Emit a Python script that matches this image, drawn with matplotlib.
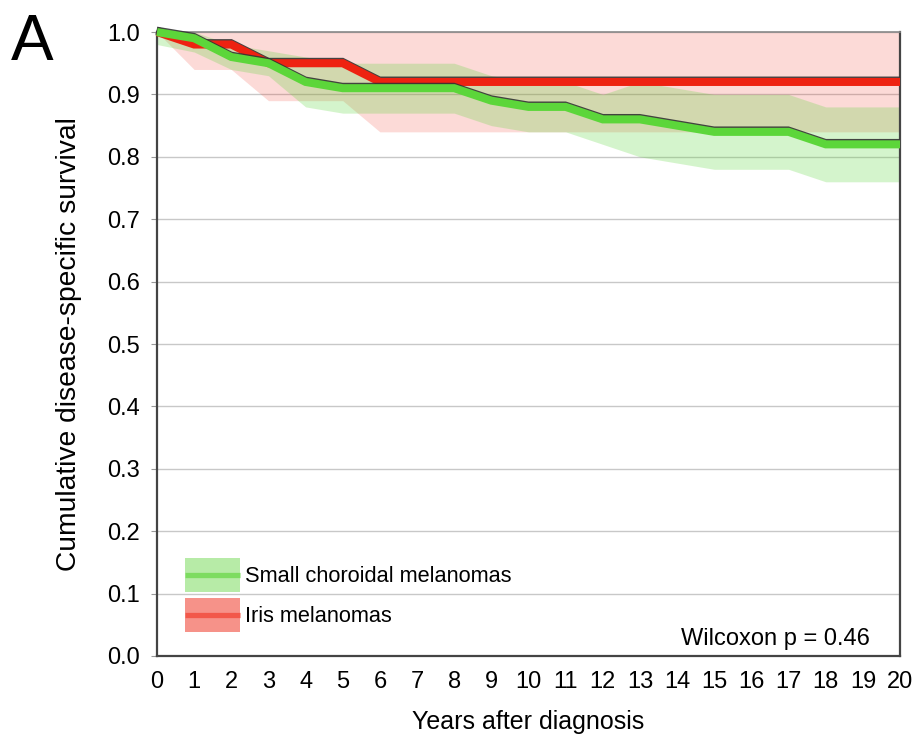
import matplotlib
matplotlib.use("Agg")
import matplotlib.pyplot as plt
import matplotlib.patheffects as pe
from matplotlib.patches import Rectangle
from matplotlib.lines import Line2D
from matplotlib.legend_handler import HandlerBase

plt.rcParams['font.family'] = ['Liberation Sans', 'DejaVu Sans']

years = list(range(0, 21))
green_surv = [1.0, 0.99, 0.96, 0.95, 0.92, 0.91, 0.91, 0.91, 0.91, 0.89, 0.88,
              0.88, 0.86, 0.86, 0.85, 0.84, 0.84, 0.84, 0.82, 0.82, 0.82]
green_low = [0.98, 0.968, 0.94, 0.93, 0.88, 0.87, 0.87, 0.87, 0.87, 0.85, 0.84,
             0.84, 0.82, 0.80, 0.79, 0.78, 0.78, 0.78, 0.76, 0.76, 0.76]
green_high = [1.0, 1.0, 0.98, 0.97, 0.96, 0.95, 0.95, 0.95, 0.95, 0.93, 0.92,
              0.92, 0.90, 0.92, 0.91, 0.90, 0.90, 0.90, 0.88, 0.88, 0.88]
red_surv = [1.0, 0.98, 0.98, 0.95, 0.95, 0.95, 0.92, 0.92, 0.92, 0.92, 0.92,
            0.92, 0.92, 0.92, 0.92, 0.92, 0.92, 0.92, 0.92, 0.92, 0.92]
red_low = [1.0, 0.94, 0.94, 0.89, 0.89, 0.89, 0.84, 0.84, 0.84, 0.84, 0.84,
           0.84, 0.84, 0.84, 0.84, 0.84, 0.84, 0.84, 0.84, 0.84, 0.84]
red_high = [1.0] * 21
labels = ["Small choroidal melanomas", "Iris melanomas"]
yticks = [0.0, 0.1, 0.2, 0.3, 0.4, 0.5, 0.6, 0.7, 0.8, 0.9, 1.0]

GREEN = '#5cd63a'
RED = '#ee2211'

fig = plt.figure(figsize=(9.17, 7.45), dpi=100)
ax = fig.add_axes([0.1712, 0.1195, 0.8103, 0.8375])

ax.fill_between(years, red_low, red_high, color=RED, alpha=0.165, lw=0)
ax.fill_between(years, green_low, green_high, color=GREEN, alpha=0.26, lw=0)

shadow = [pe.SimpleLineShadow(offset=(-0.3, 1.0), shadow_color='#333333', alpha=0.9), pe.Normal()]
ax.plot(years, red_surv, color=RED, lw=5.8, solid_joinstyle='miter', solid_capstyle='butt',
        path_effects=shadow, clip_on=False, zorder=3)
ax.plot(years, green_surv, color=GREEN, lw=5.8, solid_joinstyle='miter', solid_capstyle='butt',
        path_effects=shadow, clip_on=False, zorder=4)

ax.set_xlim(0, 20)
ax.set_ylim(0, 1.0)
ax.set_xticks(years)
ax.set_yticks(yticks)
ax.set_yticklabels([f"{v:.1f}" for v in yticks])
ax.yaxis.grid(True, color='#c8c8c8', lw=1.0)
ax.set_axisbelow(True)
ax.tick_params(axis='x', length=0, labelsize=17, pad=11)
ax.tick_params(axis='y', length=4, color='#999999', width=0.8, labelsize=17, pad=8)
for s in ['left', 'bottom', 'right']:
    ax.spines[s].set_color('#444444')
    ax.spines[s].set_linewidth(1.6)
ax.spines['top'].set_color('#888888')
ax.spines['top'].set_linewidth(1.2)

ax.set_xlabel("Years after diagnosis", fontsize=18, labelpad=12)
ax.set_ylabel("Cumulative disease-specific survival", fontsize=20.3, labelpad=18)

class BandHandler(HandlerBase):
    def __init__(self, color, alpha):
        super().__init__()
        self.color = color
        self.alpha = alpha
    def create_artists(self, legend, orig_handle, xdescent, ydescent, width, height, fontsize, trans):
        r = Rectangle((-xdescent, -ydescent), width, height,
                      facecolor=self.color, alpha=self.alpha, lw=0, transform=trans)
        l = Line2D([-xdescent, -xdescent + width], [height / 2 - ydescent] * 2,
                   color=self.color, lw=3.8, solid_capstyle='butt', transform=trans)
        return [r, l]

h1 = Line2D([], [], color=GREEN)
h2 = Line2D([], [], color=RED)
ax.legend([h1, h2], labels, loc='lower left', bbox_to_anchor=(0.0377, 0.0385),
          frameon=False, fontsize=15.7, handlelength=2.52, handleheight=2.0,
          labelspacing=0.3, handletextpad=0.25, borderpad=0, borderaxespad=0,
          handler_map={h1: BandHandler('#7ddc60', 0.55), h2: BandHandler('#f2584a', 0.65)})

ax.text(0.9596, 0.0176, "Wilcoxon p = 0.46", transform=ax.transAxes, ha='right', va='baseline',
        fontsize=17)
fig.text(0.012, 0.983, "A", fontsize=46, ha='left', va='top')

fig.savefig("out.png", dpi=100)
